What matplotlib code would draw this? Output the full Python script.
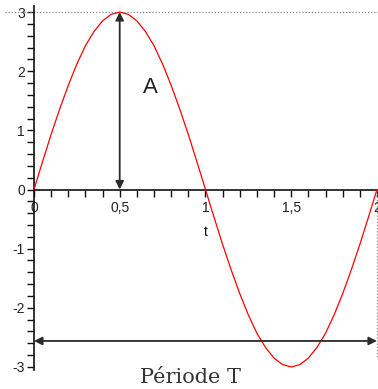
import matplotlib
matplotlib.use("Agg")
import matplotlib.pyplot as plt

plt.rcParams["font.family"] = ["Liberation Sans", "DejaVu Sans"]

# curve samples (t, y)
t_vals = [0.00, 0.05, 0.10, 0.15, 0.20, 0.25, 0.30, 0.35, 0.40, 0.45,
          0.50, 0.55, 0.60, 0.65, 0.70, 0.75, 0.80, 0.85, 0.90, 0.95,
          1.00, 1.05, 1.10, 1.15, 1.20, 1.25, 1.30, 1.35, 1.40, 1.45,
          1.50, 1.55, 1.60, 1.65, 1.70, 1.75, 1.80, 1.85, 1.90, 1.95, 2.00]
y_vals = [0.00, 0.47, 0.93, 1.36, 1.76, 2.12, 2.43, 2.67, 2.85, 2.96,
          3.00, 2.96, 2.85, 2.67, 2.43, 2.12, 1.76, 1.36, 0.93, 0.47,
          0.00, -0.47, -0.93, -1.36, -1.76, -2.12, -2.43, -2.67, -2.85, -2.96,
          -3.00, -2.96, -2.85, -2.67, -2.43, -2.12, -1.76, -1.36, -0.93, -0.47, 0.00]

x_ticks = [0, 0.5, 1, 1.5, 2]
x_tick_labels = ["0", "0,5", "1", "1,5", "2"]
y_ticks = [-3, -2, -1, 0, 1, 2, 3]
y_tick_labels = ["-3", "-2", "-1", "0", "1", "2", "3"]

amplitude = 3
amp_t = 0.5
period_y = -2.56
period_start, period_end = 0.0, 2.0

fig = plt.figure(figsize=(3.78, 3.89), dpi=100)
ax = fig.add_axes([0, 0, 1, 1])
ax.set_xlim(-0.198, 2.006)
ax.set_ylim(-3.372, 3.203)
ax.patch.set_visible(False)

for s in ["top", "right"]:
    ax.spines[s].set_visible(False)
ax.spines["left"].set_position(("data", 0))
ax.spines["bottom"].set_position(("data", 0))
ax.spines["left"].set_bounds(-3.05, 3.1)
ax.spines["bottom"].set_bounds(0, 2)
for s in ["left", "bottom"]:
    ax.spines[s].set_linewidth(1.2)
    ax.spines[s].set_color("#111111")

ax.set_xticks(x_ticks)
ax.set_xticklabels(x_tick_labels)
ax.set_xticks([i / 10 for i in range(21)], minor=True)
ax.set_yticks(y_ticks)
ax.set_yticklabels(y_tick_labels)
ax.set_yticks([i / 5 for i in range(-15, 16)], minor=True)
ax.tick_params(axis="both", which="both", direction="out", length=5, width=1,
               color="#111111", labelsize=10, labelcolor="#222222", pad=1.5)
ax.tick_params(axis="x", which="major", pad=3)

# dotted guide lines
ax.plot([-0.17, 2.006], [3, 3], color="#888888", lw=0.9, ls=(0, (1, 1.5)))
ax.plot([2, 2], [0, -2.85], color="#888888", lw=0.9, ls=(0, (1, 1.5)))

ax.plot(t_vals, y_vals, color="#ff0000", lw=0.9, zorder=3)

arrow_kw = dict(arrowstyle="<|-|>", color="#2b2b2b", lw=1.3,
                mutation_scale=12, shrinkA=0, shrinkB=0)
ax.annotate("", xy=(amp_t, amplitude), xytext=(amp_t, 0), arrowprops=arrow_kw, zorder=4)
ax.annotate("", xy=(period_end, period_y), xytext=(period_start, period_y),
            arrowprops=arrow_kw, zorder=4)

ax.text(0.68, 1.72, "A", fontsize=16, color="#222222", ha="center", va="center")
ax.text(1.0, -0.72, "t", fontsize=10, color="#111111", ha="center", va="center")
ax.text(0.91, -3.18, "Période T", fontsize=15, color="#333333", ha="center",
        va="center", family="DejaVu Serif")

fig.savefig("out.png", dpi=100)
